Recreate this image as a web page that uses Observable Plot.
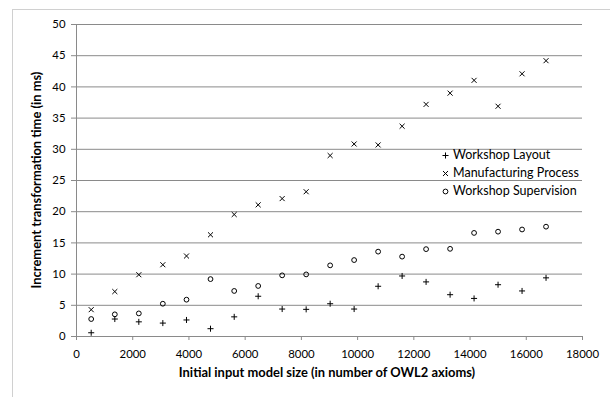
<!DOCTYPE html>
<html>
<head>
<meta charset="utf-8">
<script src="https://cdn.jsdelivr.net/npm/d3@7"></script>
<script src="https://cdn.jsdelivr.net/npm/@observablehq/plot@0.6"></script>
<style>
  body { margin: 0; background: #fff; }
  #wrap { position: relative; width: 610px; height: 397px; overflow: hidden; }
  #border { position: absolute; left: 12px; top: 9px; width: 700px; height: 500px; border: 1px solid #d0d0d0; box-sizing: border-box; }
  #chart { position: absolute; left: 0; top: 0; }
</style>
</head>
<body>
<div id="wrap"><div id="border"></div><div id="chart"></div></div>
<script>
const modelSize = [523, 1363, 2217, 3071, 3913, 4767, 5610, 6463, 7316, 8170, 9023, 9876, 10730, 11583, 12436, 13290, 14143, 14996, 15850, 16703];
const workshopLayout = [0.6, 2.8, 2.35, 2.15, 2.65, 1.25, 3.15, 6.45, 4.4, 4.35, 5.25, 4.4, 8.05, 9.7, 8.75, 6.7, 6.1, 8.3, 7.3, 9.4];
const manufacturingProcess = [4.3, 7.2, 9.9, 11.5, 12.9, 16.3, 19.55, 21.1, 22.1, 23.2, 29.0, 30.85, 30.7, 33.7, 37.2, 39.0, 41.05, 36.9, 42.1, 44.2];
const workshopSupervision = [2.8, 3.55, 3.7, 5.25, 5.9, 9.2, 7.3, 8.1, 9.8, 9.95, 11.4, 12.25, 13.6, 12.8, 14.0, 14.05, 16.6, 16.8, 17.15, 17.6];
const seriesNames = ["Workshop Layout", "Manufacturing Process", "Workshop Supervision"];
const xTicks = [0, 2000, 4000, 6000, 8000, 10000, 12000, 14000, 16000, 18000];
const yTicks = [0, 5, 10, 15, 20, 25, 30, 35, 40, 45, 50];
const xTitle = "Initial input model size (in number of OWL2 axioms)";
const yTitle = "Increment transformation time (in ms)";

const seriesValues = [workshopLayout, manufacturingProcess, workshopSupervision];
const symbols = ["plus", "times", "circle"];
const radii = [2.1, 2.4, 2.4];
const data = seriesNames.flatMap((name, i) => modelSize.map((x, j) => ({series: name, x, y: seriesValues[i][j]})));

const grid = "#8a8a8a";
const font = "Lato, 'Open Sans', sans-serif";

function fitSize(text, targetWidth, weight) {
  const tmp = d3.select("body").append("svg").attr("width", 1000).attr("height", 100);
  const t = tmp.append("text").attr("font-family", font).attr("font-size", 100)
    .attr("font-weight", weight || "normal").text(text);
  const w = t.node().getComputedTextLength();
  tmp.remove();
  return 100 * targetWidth / w;
}
const tickSize = fitSize("14000", 33);
const legendSize = fitSize("Manufacturing Process", 126);
const titleSize = fitSize(yTitle, 217, "bold");

const chart = Plot.plot({
  width: 610,
  height: 397,
  marginLeft: 76,
  marginRight: 28,
  marginTop: 24,
  marginBottom: 61,
  style: {fontFamily: font, background: "transparent", color: "#000"},
  x: {domain: [0, 18000]},
  y: {domain: [0, 50]},
  marks: [
    Plot.gridY(yTicks.filter(d => d > 0), {stroke: grid, strokeOpacity: 1}),
    Plot.ruleY([0], {stroke: grid}),
    Plot.ruleX([0], {stroke: grid}),
    Plot.axisX({ticks: xTicks, tickSize: 4, tickPadding: 9, tickFormat: d3.format("d"), stroke: grid, fill: "#000", fontSize: tickSize, label: null}),
    Plot.axisY({ticks: yTicks, tickSize: 5, tickPadding: 6, stroke: grid, fill: "#000", fontSize: tickSize, label: null}),
    ...seriesNames.map((name, i) => Plot.dot(data.filter(d => d.series === name), {
      x: "x", y: "y", symbol: symbols[i], r: radii[i], stroke: "#000", fill: "none", strokeWidth: 1
    }))
  ]
});
document.getElementById("chart").appendChild(chart);

const svg = d3.select(chart);
svg.append("text")
  .attr("x", 327).attr("y", 377)
  .attr("text-anchor", "middle")
  .attr("font-family", font).attr("font-weight", "bold").attr("font-size", titleSize)
  .attr("fill", "#000").text(xTitle);
svg.append("text")
  .attr("transform", `translate(41,${(24 + 336) / 2}) rotate(-90)`)
  .attr("text-anchor", "middle")
  .attr("font-family", font).attr("font-weight", "bold").attr("font-size", titleSize)
  .attr("fill", "#000").text(yTitle);

const legend = svg.append("g");
seriesNames.forEach((name, i) => {
  const cy = 155 + 18 * i;
  const size = Math.PI * radii[i] * radii[i];
  const sym = [d3.symbolPlus, d3.symbolTimes, d3.symbolCircle][i];
  legend.append("path")
    .attr("transform", `translate(445.5,${cy + 0.5})`)
    .attr("d", d3.symbol(sym, size)())
    .attr("fill", "none").attr("stroke", "#000").attr("stroke-width", 1);
  legend.append("text")
    .attr("x", 453).attr("y", cy).attr("dy", "0.35em")
    .attr("text-anchor", "start")
    .attr("font-family", font).attr("font-size", legendSize)
    .attr("fill", "#000").text(name);
});
</script>
</body>
</html>
